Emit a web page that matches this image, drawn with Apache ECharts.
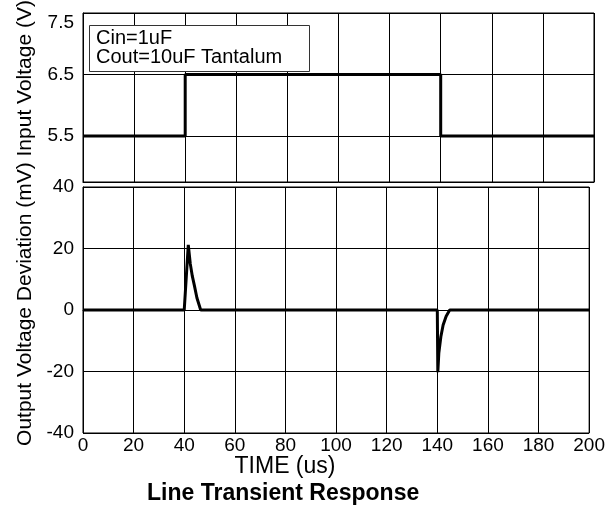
<!DOCTYPE html>
<html><head><meta charset="utf-8">
<script src="https://cdn.jsdelivr.net/npm/echarts@6/dist/echarts.min.js"></script>
<style>html,body{margin:0;padding:0;background:#fff}#c{width:608px;height:508px}</style>
</head><body><div id="c"></div>
<script>
// Input voltage (V) step waveform
const inTime = [0, 40, 40, 140, 140, 200];
const inVolt = [5.5, 5.5, 6.5, 6.5, 5.5, 5.5];
// Output voltage deviation (mV)
const outTime = [0, 40, 41.6, 42.4, 43.2, 44, 45, 46.5, 140, 140.2, 140.6, 141.4, 142.3, 143.5, 144.9, 200];
const outDev  = [0, 0, 21.2, 15, 11, 8, 4, 0, 0, -20.2, -14, -8.7, -4.9, -2, 0, 0];
// Tick labels
const inTicks = [5.5, 6.5, 7.5];
const xMin = 0, xMax = 200, xStep = 20;
const outMin = -40, outMax = 40, outStep = 20;
const legendLines = ['Cin=1uF', 'Cout=10uF Tantalum'];
const yTitle = 'Output Voltage Deviation (mV) Input Voltage (V)';
const xTitle = 'TIME (us)';
const chartTitle = 'Line Transient Response';

const FONT = "'Liberation Sans', Arial, sans-serif";
const chart = echarts.init(document.getElementById('c'), null, {renderer: 'canvas'});
const gridLine = {show: true, lineStyle: {color: '#000', width: 1}};
const axisLine = {show: true, lineStyle: {color: '#000', width: 1}};
chart.setOption({
  animation: false,
  backgroundColor: '#fff',
  grid: [
    {left: 83, right: 14, top: 13, height: 169, show: true, borderColor: '#000', borderWidth: 1, containLabel: false},
    {left: 83, right: 14, top: 187, height: 246, show: true, borderColor: '#000', borderWidth: 1, containLabel: false}
  ],
  xAxis: [
    {gridIndex: 0, type: 'value', min: xMin, max: xMax, interval: xStep,
     axisLine: axisLine, axisTick: {show: false}, axisLabel: {show: false}, splitLine: gridLine},
    {gridIndex: 1, type: 'value', min: xMin, max: xMax, interval: xStep,
     axisLine: axisLine, axisTick: {show: false},
     axisLabel: {show: true, color: '#000', fontFamily: FONT, fontSize: 19, margin: 3},
     splitLine: gridLine}
  ],
  yAxis: [
    {gridIndex: 0, type: 'value', min: 4.75, max: 7.5,
     axisLine: axisLine,
     axisTick: {show: false, customValues: inTicks},
     axisLabel: {show: true, customValues: inTicks, color: '#000', fontFamily: FONT, fontSize: 19, margin: 9,
       formatter: v => v.toFixed(1), verticalAlignMaxLabel: 'top'},
     splitLine: gridLine},
    {gridIndex: 1, type: 'value', min: outMin, max: outMax, interval: outStep,
     axisLine: axisLine, axisTick: {show: false},
     axisLabel: {show: true, color: '#000', fontFamily: FONT, fontSize: 19, margin: 9},
     splitLine: gridLine}
  ],
  series: [
    {type: 'line', xAxisIndex: 0, yAxisIndex: 0, data: inTime.map((t, i) => [t, inVolt[i]]),
     showSymbol: false, lineStyle: {color: '#000', width: 3}, z: 5},
    {type: 'line', xAxisIndex: 1, yAxisIndex: 1, data: outTime.map((t, i) => [t, outDev[i]]),
     showSymbol: false, lineStyle: {color: '#000', width: 3}, z: 5}
  ],
  graphic: [
    {type: 'rect', shape: {x: 89.5, y: 25.5, width: 220, height: 46}, style: {fill: '#fff', stroke: '#333', lineWidth: 1}, z: 10},
    {type: 'text', x: 96, y: 38.5, style: {text: legendLines[0], font: "20px " + FONT, fill: '#000', verticalAlign: 'middle'}, z: 11},
    {type: 'text', x: 96, y: 57.5, style: {text: legendLines[1], font: "20px " + FONT, fill: '#000', verticalAlign: 'middle'}, z: 11},
    {type: 'text', x: 25, y: 223, rotation: Math.PI / 2, style: {text: yTitle, font: "21px " + FONT, fill: '#000', align: 'center', verticalAlign: 'middle'}},
    {type: 'text', x: 285, y: 467, style: {text: xTitle, font: "23px " + FONT, fill: '#000', align: 'center', verticalAlign: 'middle'}},
    {type: 'text', x: 147, y: 494, style: {text: chartTitle, font: "bold 23px " + FONT, fill: '#000', align: 'left', verticalAlign: 'middle'}}
  ]
});
</script></body></html>
